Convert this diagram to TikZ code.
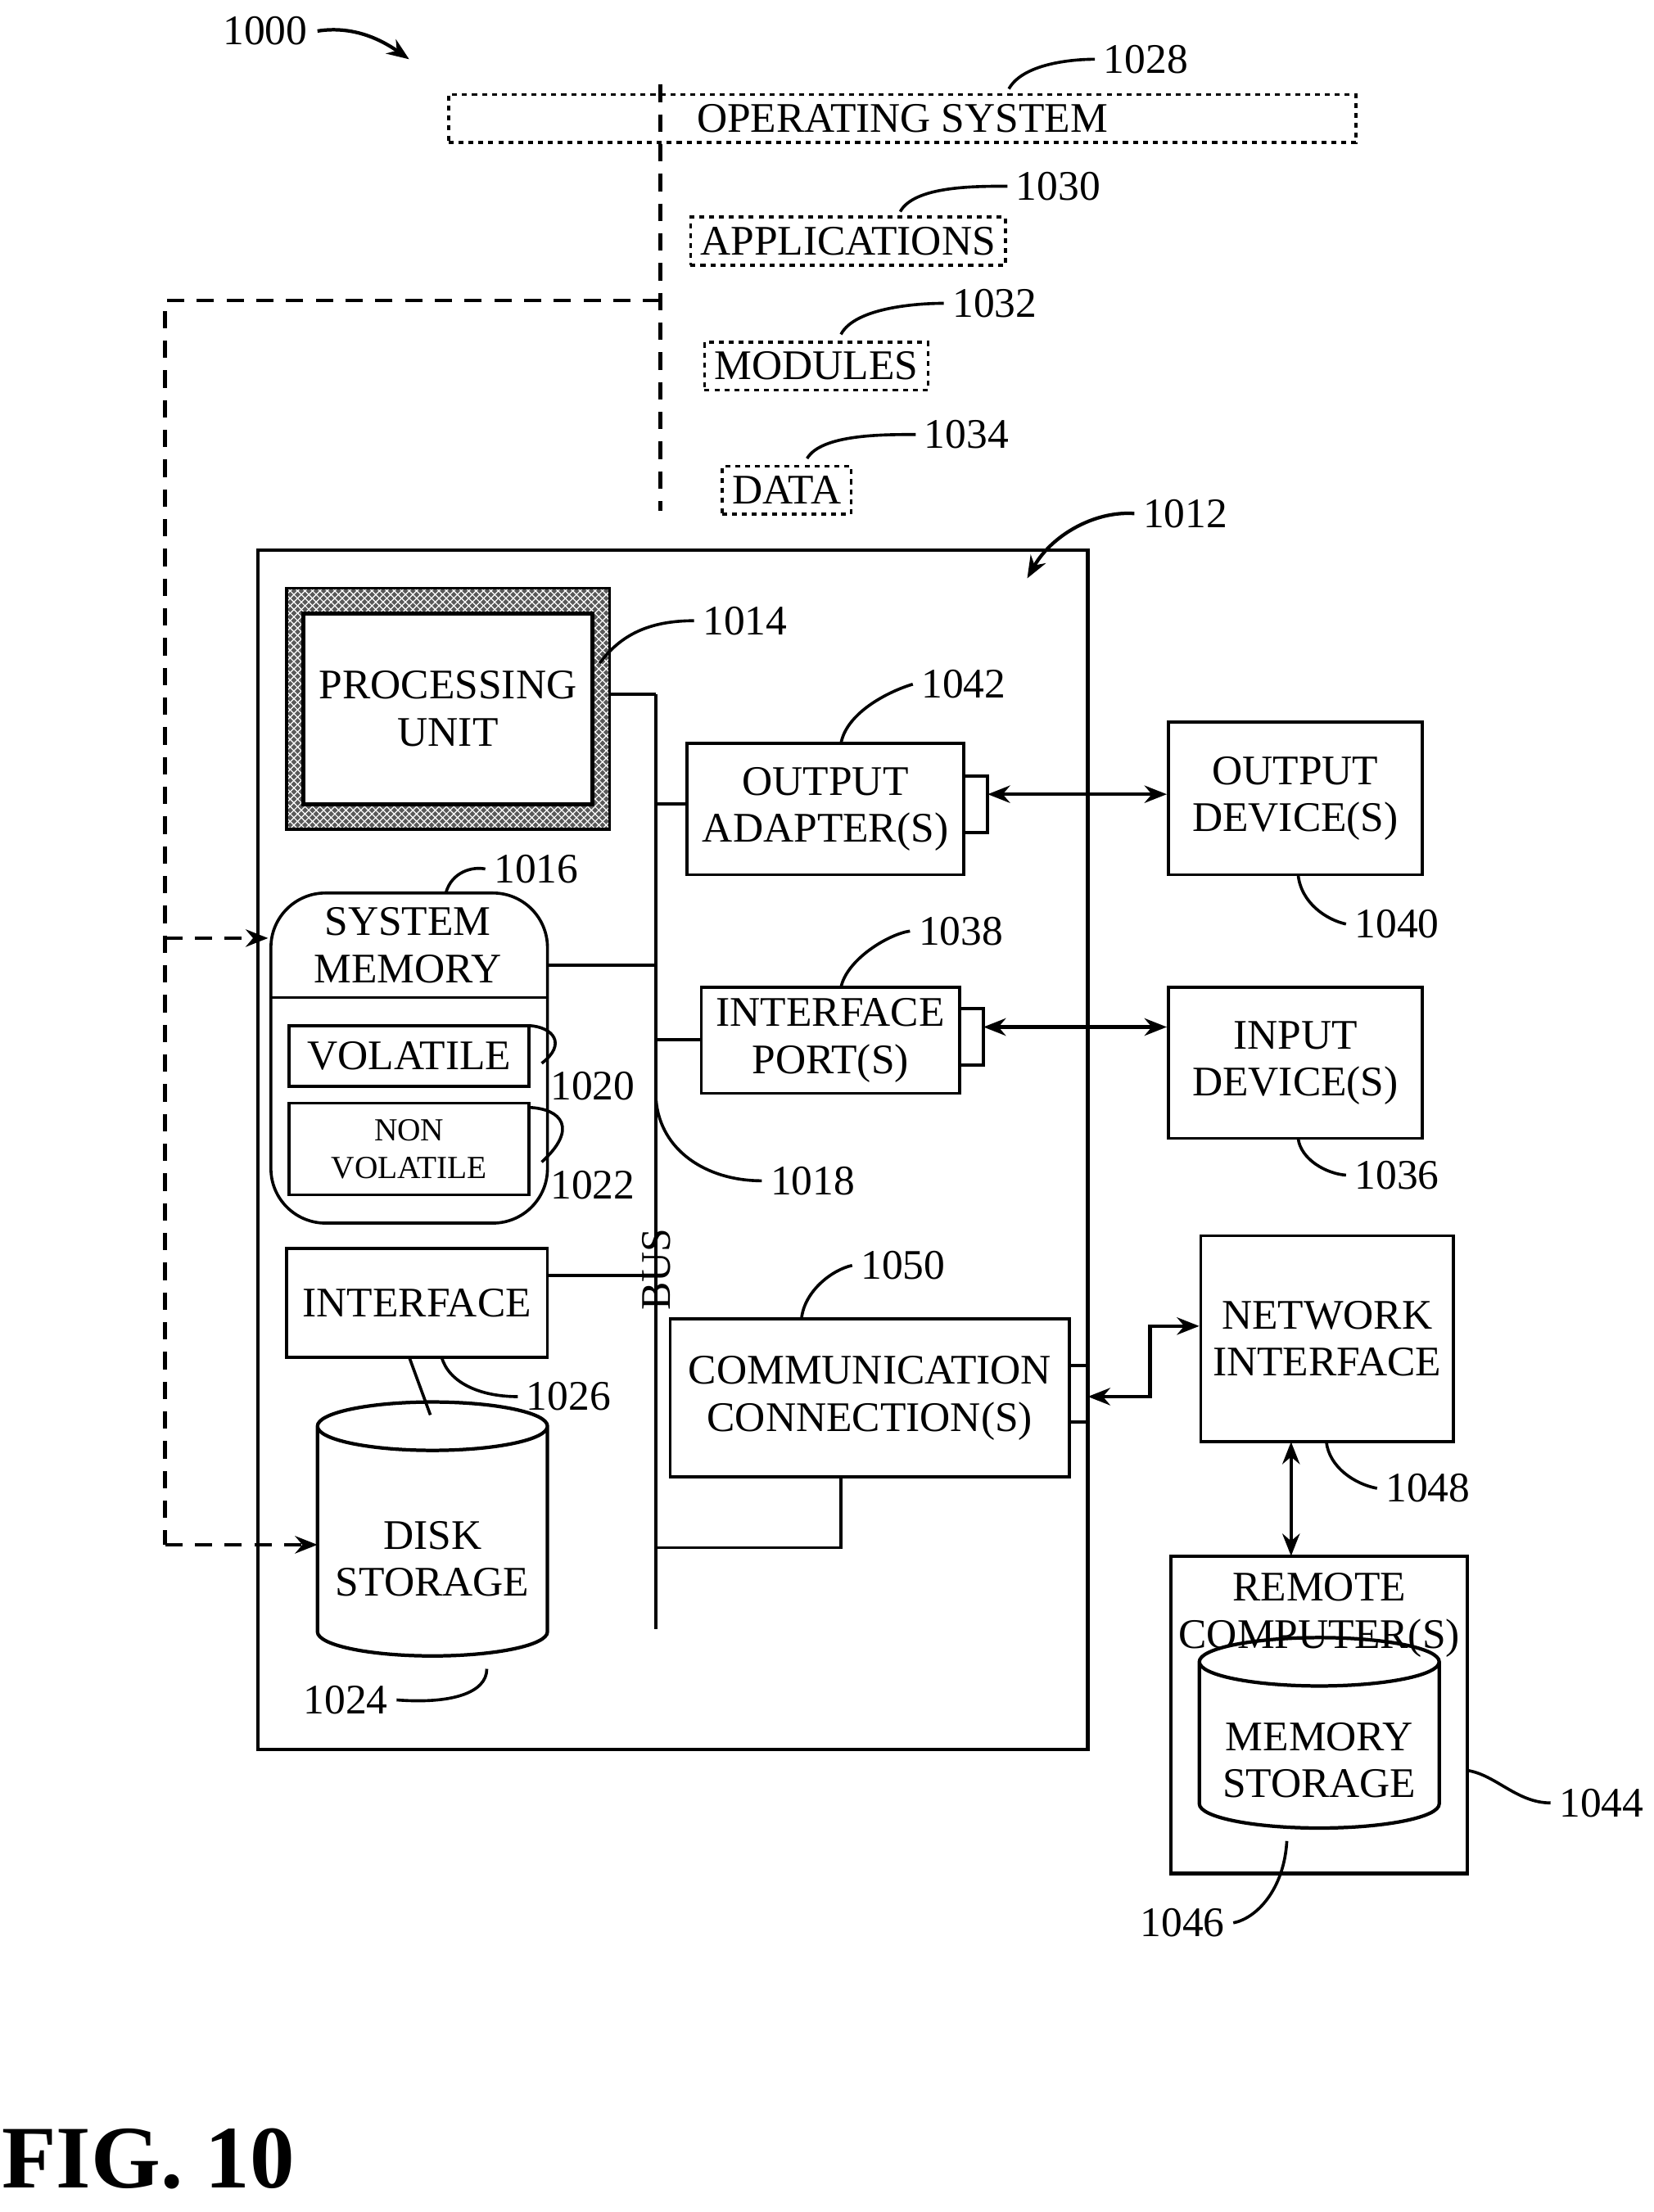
\documentclass[tikz,border=0pt]{standalone}
\usepackage{fontspec}
\setmainfont{Liberation Serif}
\usetikzlibrary{patterns,arrows.meta,shapes.geometric}
\begin{document}
\begin{tikzpicture}[x=0.02cm,y=-0.02cm,
  box/.style={draw,line width=1.2pt,align=center,inner sep=0pt},
  dbox/.style={draw,dash pattern=on 2pt off 2pt,line width=1.2pt,font=\fontsize{17}{18}\selectfont,inner sep=4pt},
  lbl/.style={font=\fontsize{17}{18}\selectfont},
  lead/.style={line width=1.2pt},
  dl/.style={line width=1.6pt,dash pattern=on 7pt off 5pt},
  ar/.style={-{Stealth[length=9pt,width=7pt]},line width=1.4pt},
  dar/.style={{Stealth[length=9pt,width=7pt]}-{Stealth[length=9pt,width=7pt]},line width=1.4pt},
  font=\fontsize{17}{19}\selectfont]
\useasboundingbox (0,0) rectangle (1172,1568);
% 1000
\node[lbl] (n1000) at (188,22) {1000};
\draw[ar] (225,22) .. controls (250,18) and (270,28) .. (290,42);
% dashed lines
\coordinate (dt) at (468,60); \coordinate (db) at (468,362);
\coordinate (dj) at (468,213); \coordinate (dc) at (117,213);
\coordinate (dd) at (117,1095);
\draw[dl] (dt) -- (db);
\draw[dl] (dj) -- (dc) -- (dd);
% dotted boxes
\node[dbox,minimum width=305\pgflinewidth] (os) at (639.5,84) {OPERATING SYSTEM};
\node[dbox] (app) at (601,171) {APPLICATIONS};
\node[dbox] (mod) at (578.5,259.5) {MODULES};
\node[dbox] (dat) at (557.5,347.5) {DATA};
\node[lbl] (l1028) at (812,42) {1028};
\node[lbl] (l1030) at (750,132) {1030};
\node[lbl] (l1032) at (705,215) {1032};
\node[lbl] (l1034) at (685,308) {1034};
\draw[lead] (715,63) .. controls (725,45) and (760,42) .. (l1028.west);
\draw[lead] (638,150) .. controls (648,132) and (690,132) .. (l1030.west);
\draw[lead] (596,237) .. controls (606,218) and (650,215) .. (l1032.west);
\draw[lead] (572,325) .. controls (582,308) and (625,308) .. (l1034.west);
% main box
\draw[line width=1.4pt] (183,390) rectangle (771,1240);
\node[lbl] (l1012) at (840,364) {1012};
\draw[ar] (l1012.west) .. controls (775,362) and (745,380) .. (728,410);
% processing unit
\fill[black!65] (203,417) rectangle (432,588);
\fill[pattern=crosshatch,pattern color=white] (203,417) rectangle (432,588);
\draw[line width=1.2pt] (203,417) rectangle (432,588);
\node[box,fill=white,minimum width=205*0.02cm,minimum height=135*0.02cm,line width=1.6pt] (pu) at (317.5,502.5) {PROCESSING\\UNIT};
\node[lbl] (l1014) at (528,440) {1014};
\draw[lead] (425,470) .. controls (440,450) and (460,440) .. (l1014.west);
% bus
\coordinate (bt) at (465,492); \coordinate (bb) at (465,1155);
\draw[line width=1.4pt] (bt) -- (bb);
\draw[line width=1.2pt] (432,492) -- (bt);
\node[rotate=90,lbl] (bus) at (465,900) {BUS};
% output adapter
\node[box,minimum width=196*0.02cm,minimum height=93*0.02cm] (oa) at (585,573.5) {OUTPUT\\ADAPTER(S)};
\node[box,minimum width=17*0.02cm,minimum height=40*0.02cm] (oap) at (691.5,570) {};
\node[box,minimum width=180*0.02cm,minimum height=108*0.02cm] (od) at (918,566) {OUTPUT\\DEVICE(S)};
\draw[dar] (700,563) -- (od.west |- 0,563);
\draw[line width=1.2pt] (465,570) -- (oa.west |- 0,570);
\node[lbl] (l1042) at (683,485) {1042};
\draw[lead] (596,527) .. controls (600,505) and (630,490) .. (l1042.west);
\node[lbl] (l1040) at (990,655) {1040};
\draw[lead] (920,620) .. controls (922,640) and (940,652) .. (l1040.west);
% interface port
\node[box,minimum width=183*0.02cm,minimum height=75*0.02cm] (ip) at (588.5,737.5) {INTERFACE\\PORT(S)};
\node[box,minimum width=17*0.02cm,minimum height=40*0.02cm] (ipp) at (688.5,735) {};
\node[box,minimum width=180*0.02cm,minimum height=107*0.02cm] (id) at (918,753.5) {INPUT\\DEVICE(S)};
\draw[dar] (697,728) -- (id.west |- 0,728);
\draw[line width=1.2pt] (465,737) -- (ip.west |- 0,737);
\node[lbl] (l1038) at (681,660) {1038};
\draw[lead] (596,700) .. controls (600,680) and (630,662) .. (l1038.west);
\node[lbl] (l1036) at (990,833) {1036};
\draw[lead] (920,807) .. controls (922,822) and (940,832) .. (l1036.west);
% system memory
\draw[line width=1.2pt,rounded corners=22pt] (192,633) rectangle (388,867);
\draw[line width=1.2pt] (192,707) -- (388,707);
\node[align=center] (sm) at (289,670) {SYSTEM\\MEMORY};
\draw[line width=1.2pt] (388,684) -- (465,684);
\node[lbl] (l1016) at (380,616) {1016};
\draw[lead] (316,633) .. controls (320,618) and (335,614) .. (l1016.west);
\node[box,minimum width=170*0.02cm,minimum height=43*0.02cm] (vol) at (290,748.5) {VOLATILE};
\node[box,minimum width=170*0.02cm,minimum height=65*0.02cm,font=\fontsize{13}{15}\selectfont] (nv) at (290,814.5) {NON\\VOLATILE};
\node[lbl] (l1020) at (420,770) {1020};
\draw[lead] (375,727) .. controls (392,728) and (402,740) .. (l1020.north west);
\node[lbl] (l1022) at (420,840) {1022};
\draw[lead] (375,785) .. controls (398,786) and (410,800) .. (l1022.north west);
\node[lbl] (l1018) at (576,837) {1018};
\draw[lead] (465,780) .. controls (468,815) and (500,837) .. (l1018.west);
% interface
\node[box,minimum width=185*0.02cm,minimum height=77*0.02cm] (if) at (295.5,923.5) {INTERFACE};
\draw[line width=1.2pt] (if.east |- 0,904) -- (465,904);
\node[lbl] (l1026) at (403,990) {1026};
\draw[lead] (313,962) .. controls (318,980) and (340,990) .. (l1026.west);
% disk
\node[cylinder,shape border rotate=90,draw,line width=1.4pt,aspect=0.25,minimum width=163*0.02cm,minimum height=180*0.02cm,align=center,inner sep=0pt] (disk) at (306.5,1093) {\\[6pt]DISK\\STORAGE};
\draw[line width=1.2pt] (290,962) -- (305,1003);
\node[lbl] (l1024) at (245,1205) {1024};
\draw[lead] (345,1183) .. controls (345,1200) and (320,1208) .. (l1024.east);
% communication
\node[box,minimum width=283*0.02cm,minimum height=112*0.02cm] (cc) at (616.5,991) {COMMUNICATION\\CONNECTION(S)};
\node[box,minimum width=13*0.02cm,minimum height=40*0.02cm] (ccp) at (764.5,988) {};
\draw[line width=1.2pt] (465,1097) -- (596,1097) -- (596,1047);
\node[lbl] (l1050) at (640,897) {1050};
\draw[lead] (568,935) .. controls (570,915) and (590,900) .. (l1050.west);
% network interface
\node[box,minimum width=179*0.02cm,minimum height=146*0.02cm] (ni) at (940.5,949) {NETWORK\\INTERFACE};
\draw[dar] (771,990) -- (815,990) -- (815,940) -- (ni.west |- 0,940);
\node[lbl] (l1048) at (1012,1055) {1048};
\draw[lead] (940,1022) .. controls (942,1040) and (960,1052) .. (l1048.west);
% remote computer
\draw[line width=1.4pt] (830,1103) rectangle (1040,1328);
\coordinate (rct) at (915,1103);
\draw[dar] (915,1022) -- (rct);
\node[align=center] (rc) at (935,1145) {REMOTE\\COMPUTER(S)};
\node[cylinder,shape border rotate=90,draw,line width=1.4pt,aspect=0.25,minimum width=170*0.02cm,minimum height=135*0.02cm,align=center,inner sep=0pt] (ms) at (935,1237.5) {\\[4pt]MEMORY\\STORAGE};
\node[lbl] (l1044) at (1135,1278) {1044};
\draw[lead] (1040,1255) .. controls (1060,1258) and (1075,1278) .. (l1044.west);
\node[lbl] (l1046) at (838,1363) {1046};
\draw[lead] (912,1305) .. controls (910,1340) and (890,1360) .. (l1046.east);
% dashed arrows
\draw[dl,-{Stealth[length=9pt,width=7pt]}] (117,665) -- (190,665);
\draw[dl,-{Stealth[length=9pt,width=7pt]}] (dd) -- (225,1095);
% fig
\node[font=\bfseries\fontsize{36}{40}\selectfont] (fig) at (105,1530) {FIG. 10};
\end{tikzpicture}
\end{document}
